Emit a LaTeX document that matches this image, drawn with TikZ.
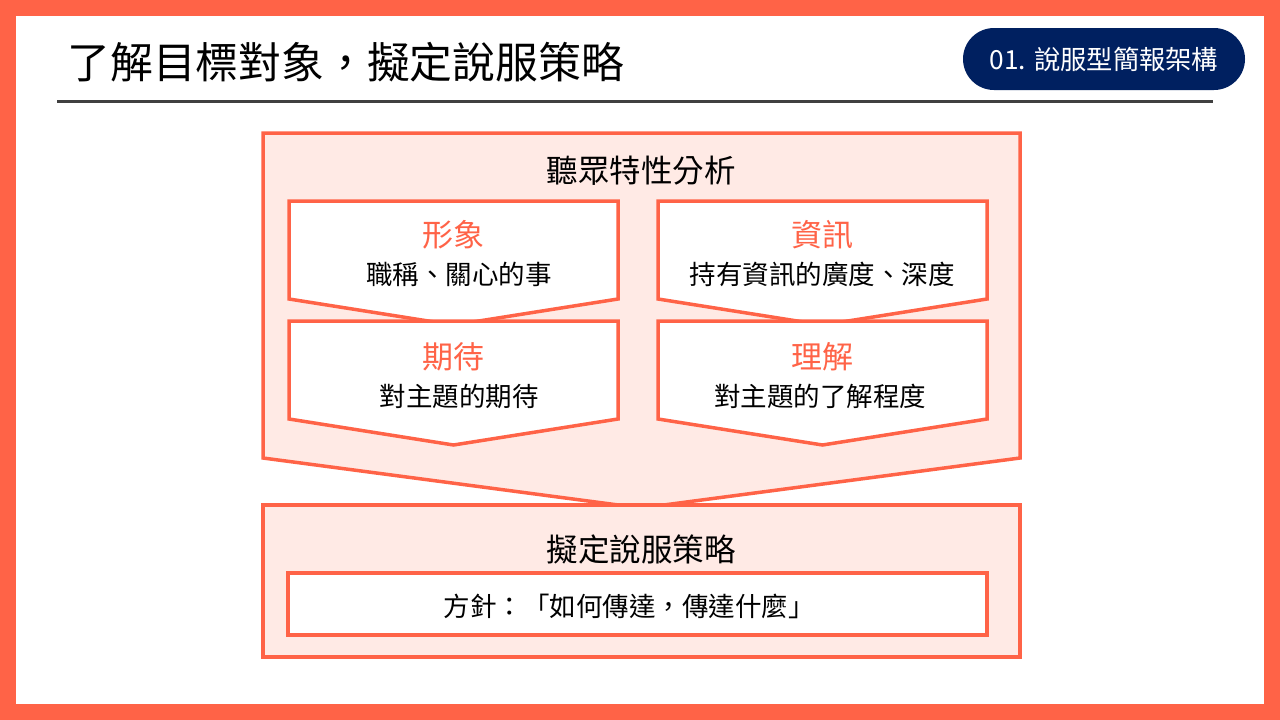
\documentclass[tikz,border=0pt]{standalone}
\usepackage{fontspec}
\setmainfont{Noto Sans CJK TC}
\usetikzlibrary{positioning}
\definecolor{coral}{RGB}{255,99,71}
\definecolor{navy}{RGB}{0,32,96}
\definecolor{palecoral}{RGB}{255,234,229}
\definecolor{rulegray}{RGB}{64,64,64}
\begin{document}
\begin{tikzpicture}[x=1pt,y=-1pt,
    frame/.style={draw=coral,line width=3.5pt,fill=palecoral},
    card/.style={draw=coral,line width=3.5pt,fill=white},
    headline/.style={font=\fontsize{31.5}{36}\selectfont},
    tag/.style={text=coral,font=\fontsize{31}{36}\selectfont},
    note/.style={font=\fontsize{26.5}{32}\selectfont}]
  % page
  \fill[coral] (0,0) rectangle (1280,720);
  \fill[white] (16,16) rectangle (1264,704);
  % heading
  \node[anchor=west,font=\fontsize{42.8}{48}\selectfont] (title) at (64,62) {了解目標對象，擬定說服策略};
  \draw[rulegray,line width=3pt] (57,101) -- (1213,101);
  \node[fill=navy,rounded corners=31pt,minimum width=282pt,minimum height=62pt,
        text=white,font=\fontsize{26.3}{30}\selectfont] (badge) at (1104,59) {01. 說服型簡報架構};
  % audience
  \draw[frame] (263,133) -- (1020,133) -- (1020,458) -- (641,508) -- (263,458) -- cycle;
  \node[headline] (audience) at (641,171) {聽眾特性分析};
  \foreach \x in {289,658}
    \foreach \y in {201,321}
      \draw[card] (\x,\y) -- ++(329,0) -- ++(0,98) -- ++(-164.5,26) -- ++(-164.5,-26) -- cycle;
  \node[tag] (image) at (453,235) {形象};
  \node[note] (imagenote) at (459,274) {職稱、關心的事};
  \node[tag] (info) at (822,235) {資訊};
  \node[note] (infonote) at (822,274) {持有資訊的廣度、深度};
  \node[tag] (expect) at (453,357) {期待};
  \node[note] (expectnote) at (459,396) {對主題的期待};
  \node[tag] (grasp) at (822,357) {理解};
  \node[note] (graspnote) at (820,396) {對主題的了解程度};
  % strategy
  \draw[frame] (263,505) rectangle (1020,657);
  \node[headline] (strategy) at (641,549) {擬定說服策略};
  \draw[card] (288,573) rectangle (987,635);
  \node[note] (policy) at (629,606) {方針：「如何傳達，傳達什麼」};
\end{tikzpicture}
\end{document}
